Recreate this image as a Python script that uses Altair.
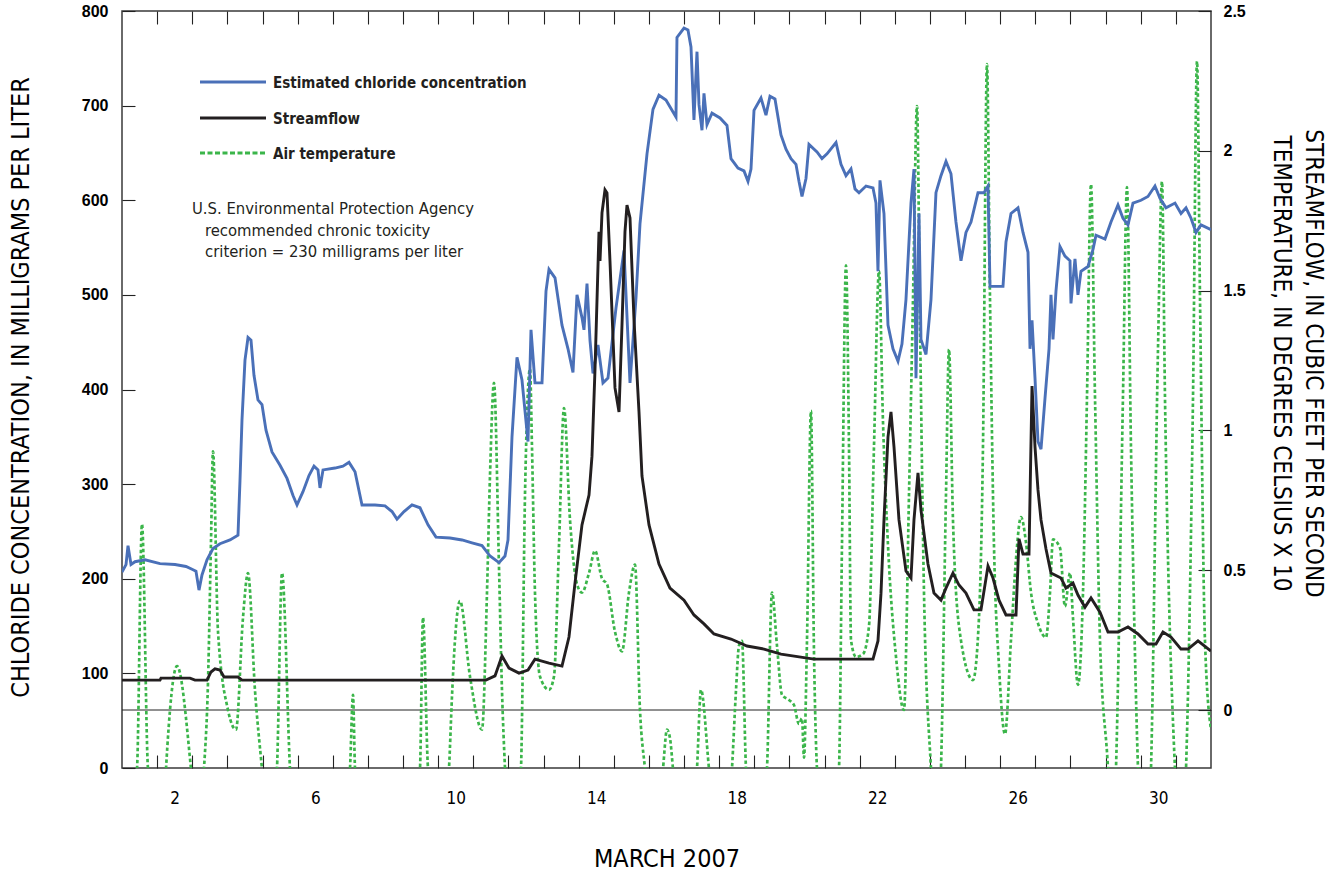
import altair as alt
import pandas as pd

# ---------------- data ----------------
# day of March 2007 as a continuous value: 1.0 = March 1, 00:00 ; 32.0 = April 1, 00:00
cl_day = [1.000, 1.114, 1.171, 1.256, 1.370, 1.655, 2.082, 2.509, 2.822, 2.993, 3.106, 3.192, 3.277,
          3.420, 3.590, 3.790, 4.074, 4.302, 4.359, 4.416, 4.501, 4.587, 4.672, 4.757, 4.871, 4.985,
          5.099, 5.270, 5.498, 5.697, 5.868, 5.982, 6.152, 6.323, 6.466, 6.579, 6.636, 6.722, 7.063,
          7.291, 7.462, 7.633, 7.832, 8.202, 8.487, 8.686, 8.828, 9.028, 9.255, 9.483, 9.711, 9.938,
          10.337, 10.679, 10.963, 11.248, 11.476, 11.732, 11.903, 11.988, 12.102, 12.244, 12.386,
          12.557, 12.643, 12.756, 12.956, 13.070, 13.155, 13.326, 13.525, 13.696, 13.838, 13.952,
          14.094, 14.151, 14.237, 14.322, 14.408, 14.550, 14.692, 14.834, 15.062, 15.290, 15.461,
          15.632, 15.745, 15.945, 16.115, 16.286, 16.485, 16.770, 16.798, 16.998, 17.111, 17.197,
          17.282, 17.368, 17.425, 17.510, 17.567, 17.653, 17.795, 18.023, 18.222, 18.336, 18.535,
          18.706, 18.820, 18.905, 18.991, 19.190, 19.332, 19.446, 19.588, 19.759, 19.901, 20.044,
          20.186, 20.271, 20.357, 20.471, 20.556, 20.784, 20.926, 21.069, 21.325, 21.467, 21.609,
          21.752, 21.866, 21.980, 22.179, 22.378, 22.463, 22.520, 22.577, 22.691, 22.805, 22.947,
          23.090, 23.203, 23.317, 23.460, 23.545, 23.602, 23.688, 23.744, 23.887, 24.029, 24.171,
          24.313, 24.456, 24.598, 24.740, 24.883, 25.025, 25.168, 25.367, 25.538, 25.652, 25.709,
          26.079, 26.164, 26.307, 26.506, 26.648, 26.791, 26.848, 26.905, 26.990, 27.075, 27.161,
          27.275, 27.389, 27.445, 27.502, 27.587, 27.701, 27.843, 27.986, 28.014, 28.128, 28.213,
          28.299, 28.498, 28.641, 28.726, 28.982, 29.153, 29.352, 29.494, 29.637, 29.779, 30.007,
          30.206, 30.405, 30.548, 30.719, 30.975, 31.146, 31.289, 31.431, 31.573, 31.716, 32.000]
cl_val = [207, 215, 235, 215, 218, 220, 216, 215, 213, 210, 208, 188, 204,
          220, 232, 237, 241, 246, 304, 368, 431, 455, 452, 415, 389, 384,
          357, 334, 320, 306, 288, 278, 292, 309, 319, 315, 296, 315, 317,
          319, 323, 313, 278, 278, 277, 271, 263, 271, 278, 275, 257, 244,
          243, 241, 238, 235, 224, 217, 224, 241, 350, 434, 410,
          345, 463, 407, 407, 504, 527, 518, 468, 443, 418, 500,
          476, 463, 512, 452, 417, 447, 407, 412, 486, 547, 407,
          497, 575, 649, 696, 711, 706, 688, 772, 782, 780, 762,
          685, 757, 701, 674, 713, 680, 692, 687, 679, 644, 634,
          631, 620, 633, 695, 708, 690, 710, 707, 669, 654, 644,
          638, 620, 604, 623, 659, 651, 644, 649, 661, 638, 626,
          633, 612, 608, 615, 613, 597, 525, 621, 586, 468, 443,
          430, 448, 495, 597, 633, 412, 586, 453, 437, 495, 608,
          626, 641, 628, 577, 536, 566, 577, 608, 608, 615, 509,
          509, 556, 586, 592, 566, 545, 443, 473, 412, 345, 337,
          391, 443, 500, 453, 504, 551, 541, 536, 491, 538, 500,
          525, 530, 548, 563, 559, 577, 595, 581, 574, 597, 600,
          604, 615, 602, 592, 597, 586, 592, 581, 566, 574, 569]

sf_day = [1.000, 2.082, 2.110, 2.936, 3.078, 3.420, 3.533, 3.647, 3.790, 3.904, 4.302, 4.416, 11.362,
          11.618, 11.817, 12.016, 12.301, 12.557, 12.756, 13.155, 13.525, 13.724, 13.895, 14.094,
          14.294, 14.379, 14.465, 14.578, 14.607, 14.664, 14.749, 14.806, 14.891, 15.034, 15.148,
          15.233, 15.318, 15.375, 15.461, 15.575, 15.717, 15.802, 16.002, 16.286, 16.599, 16.998,
          17.282, 17.567, 17.852, 18.336, 18.791, 19.275, 19.759, 20.698, 22.378, 22.520, 22.606,
          22.691, 22.805, 22.890, 22.976, 23.118, 23.317, 23.460, 23.545, 23.659, 23.744, 23.943,
          24.114, 24.313, 24.456, 24.655, 24.826, 25.025, 25.253, 25.452, 25.652, 25.794, 25.965,
          26.164, 26.449, 26.534, 26.648, 26.819, 26.905, 26.990, 27.075, 27.161, 27.303, 27.445,
          27.730, 27.872, 28.071, 28.213, 28.413, 28.584, 28.840, 29.068, 29.352, 29.637, 29.922,
          30.206, 30.434, 30.633, 30.861, 31.146, 31.346, 31.630, 32.000]
sf_val = [0.107, 0.107, 0.114, 0.114, 0.107, 0.107, 0.136, 0.147, 0.143, 0.118, 0.118, 0.107, 0.107,
          0.122, 0.193, 0.150, 0.132, 0.143, 0.182, 0.168, 0.157, 0.261, 0.454, 0.662,
          0.769, 0.908, 1.220, 1.710, 1.606, 1.778, 1.860, 1.849, 1.606, 1.152, 1.066,
          1.377, 1.710, 1.806, 1.760, 1.395, 1.066, 0.837, 0.662, 0.522, 0.436, 0.393,
          0.340, 0.308, 0.272, 0.254, 0.229, 0.218, 0.200, 0.182, 0.182, 0.247, 0.418,
          0.680, 0.976, 1.066, 0.941, 0.680, 0.497, 0.472, 0.680, 0.848, 0.715, 0.522,
          0.418, 0.393, 0.436, 0.490, 0.447, 0.418, 0.358, 0.358, 0.515, 0.472, 0.393,
          0.340, 0.340, 0.612, 0.558, 0.558, 1.159, 0.941, 0.787, 0.680, 0.576, 0.490,
          0.472, 0.436, 0.454, 0.411, 0.368, 0.401, 0.350, 0.279, 0.279, 0.297, 0.272,
          0.236, 0.236, 0.279, 0.261, 0.218, 0.218, 0.247, 0.211]

# air temperature, in the right-axis units (degrees Celsius / 10)
t_day = [1.000, 1.427, 1.569, 1.740, 2.139, 2.253, 2.566, 2.964, 3.135, 3.334, 3.448, 3.533, 3.590,
         3.733, 4.017, 4.245, 4.444, 4.587, 4.786, 4.985, 5.213, 5.412, 5.555, 5.782, 6.067, 6.579,
         7.063, 7.490, 7.576, 7.633, 8.060, 8.572, 9.056, 9.483, 9.568, 9.711, 10.052, 10.308,
         10.394, 10.479, 10.621, 10.906, 11.248, 11.390, 11.476, 11.589, 11.732, 11.817, 11.903,
         12.130, 12.358, 12.472, 12.614, 12.671, 12.756, 12.899, 13.155, 13.297, 13.440, 13.582,
         13.753, 13.952, 14.094, 14.294, 14.465, 14.664, 14.806, 15.034, 15.233, 15.432, 15.603,
         15.745, 15.888, 16.172, 16.400, 16.514, 16.599, 16.685, 17.026, 17.368, 17.482, 17.710,
         18.023, 18.364, 18.478, 18.563, 18.649, 18.763, 19.076, 19.361, 19.503, 19.645, 19.788,
         19.987, 20.129, 20.271, 20.357, 20.414, 20.499, 20.613, 20.698, 20.784, 21.097, 21.410,
         21.495, 21.609, 21.695, 21.752, 21.894, 22.093, 22.264, 22.406, 22.549, 22.663, 22.805,
         23.033, 23.260, 23.403, 23.517, 23.631, 23.716, 23.830, 24.029, 24.171, 24.313, 24.456,
         24.541, 24.655, 24.826, 25.225, 25.395, 25.509, 25.623, 25.709, 25.822, 25.965, 26.135,
         26.306, 26.449, 26.591, 26.733, 26.876, 27.075, 27.303, 27.417, 27.502, 27.701, 27.843,
         27.986, 28.071, 28.213, 28.356, 28.470, 28.584, 28.698, 28.840, 29.068, 29.181, 29.295,
         29.494, 29.608, 29.722, 29.922, 30.121, 30.292, 30.491, 30.605, 30.690, 30.975, 31.146,
         31.289, 31.488, 31.602, 31.687, 31.828, 32.000]
t_val = [-0.55, -0.21, 0.665, -0.21, -0.50, -0.21, 0.157, -0.21, -0.45, -0.21, 0.10, 0.60, 0.925,
         0.28, 0.0, -0.07, 0.33, 0.49, 0.07, -0.21, -0.50, -0.21, 0.49, -0.21, -0.70, -0.35,
         -0.70, -0.21, 0.054, -0.21, -0.70, -0.30, -0.70, -0.21, 0.33, -0.21, -0.50, -0.21,
         0.05, 0.25, 0.39, 0.12, -0.07, 0.42, 0.84, 1.17, 0.51, 0.07, -0.21,
         -0.60, -0.21, 0.77, 1.22, 0.94, 0.42, 0.12, 0.072, 0.12, 0.59, 1.08,
         0.68, 0.45, 0.42, 0.49, 0.57, 0.47, 0.45, 0.28, 0.21, 0.42, 0.52,
         0.0, -0.21, -0.50, -0.21, -0.07, -0.10, -0.21, -0.60, -0.21, 0.072, -0.21,
         -0.60, -0.21, 0.07, 0.23, 0.247, -0.21, -0.60, -0.21, 0.42, 0.23, 0.054,
         0.036, 0.018, -0.05, -0.03, -0.17, 0.247, 1.07, 0.21, -0.21, -0.60, -0.21,
         0.59, 1.59, 0.94, 0.25, 0.19, 0.20, 0.30, 0.94, 1.57, 1.03, 0.59,
         0.19, 0.0, 0.77, 1.47, 2.16, 1.38, 0.42, -0.21, -0.50, -0.21, 0.77,
         1.29, 0.68, 0.30, 0.107, 0.33, 0.94, 2.31, 1.47, 0.59, 0.157, -0.086,
         0.25, 0.54, 0.69, 0.60, 0.42, 0.31, 0.26, 0.42, 0.61, 0.58, 0.37,
         0.49, 0.33, 0.09, 0.42, 1.12, 1.88, 1.12, 0.25, -0.21, -0.50, -0.21,
         1.12, 1.87, 0.94, -0.21, -0.60, -0.21, 1.29, 1.89, 1.12, -0.21, -0.50,
         -0.21, 1.12, 2.32, 1.47, 0.25, -0.07]

day_ticks = list(range(2, 32))
left_ticks = [0, 100, 200, 300, 400, 500, 600, 700, 800]
right_ticks = [0, 0.5, 1, 1.5, 2, 2.5]
zero_line = [0]

legend_labels = ["Estimated chloride concentration", "Streamflow", "Air temperature"]
note_lines = ["U.S. Environmental Protection Agency",
              "recommended chronic toxicity",
              "criterion = 230 milligrams per liter"]

# ---------------- styling ----------------
W, H = 1089, 757
NARROW = "'DejaVu Sans Condensed', 'Liberation Sans Narrow', sans-serif"
SANS = "'Liberation Sans', Arial, sans-serif"
BLUE = "#4a70b8"
BLACK = "#231f20"
GREEN = "#3bb54a"
DASH = [3.5, 2.5]
LW = 2.9

xscale = alt.Scale(domain=[1, 32], nice=False, zero=False)
clscale = alt.Scale(domain=[0, 800], nice=False, zero=False)
rscale = alt.Scale(domain=[-0.2074, 2.5], nice=False, zero=False)

df_cl = pd.DataFrame({"day": cl_day, "value": cl_val})
df_sf = pd.DataFrame({"day": sf_day, "value": sf_val})
df_t = pd.DataFrame({"day": t_day, "value": t_val})
df_zero = pd.DataFrame({"value": zero_line})

bottom_axis = alt.Axis(
    orient="bottom", values=day_ticks,
    labelExpr="(datum.value - 2) % 4 == 0 ? datum.label : ''",
    labelOffset=17.6, offset=-13, tickSize=13, tickColor="#222", tickWidth=1.1,
    domain=False, grid=False, labelPadding=22, labelFont=NARROW, labelFontSize=17,
    labelColor="black", labelFlush=False, labelOverlap=False, labelBound=False,
    title="MARCH 2007", titleFont=NARROW, titleFontSize=25, titleFontWeight="normal",
    titleColor="black", titleX=W / 2, titleY=103, titleAlign="center", titleBaseline="middle")

top_axis = alt.Axis(
    orient="top", values=day_ticks, labels=False, offset=-13, tickSize=13,
    tickColor="#222", tickWidth=1.1, domain=False, grid=False, title="")

left_axis = alt.Axis(
    orient="left", values=left_ticks, format="d", offset=-13, tickSize=13,
    tickColor="#222", tickWidth=1.1, domain=False, grid=False, labelPadding=14,
    labelFont=SANS, labelFontSize=16, labelFontWeight="bold", labelColor="black",
    labelFlush=False, labelOverlap=False, labelBound=False,
    title="CHLORIDE CONCENTRATION, IN MILLIGRAMS PER LITER", titleFont=NARROW,
    titleFontSize=25, titleFontWeight="normal", titleColor="black", titleAngle=270,
    titleX=-115, titleY=376, titleAlign="center", titleBaseline="middle")

right_axis = alt.Axis(
    orient="right", values=right_ticks, format="~g", offset=-13, tickSize=13,
    tickColor="#222", tickWidth=1.1, domain=False, grid=False, labelPadding=12,
    labelFont=SANS, labelFontSize=16, labelFontWeight="bold", labelColor="black",
    labelFlush=False, labelOverlap=False, labelBound=False,
    title=["STREAMFLOW, IN CUBIC FEET PER SECOND", "TEMPERATURE, IN DEGREES CELSIUS X 10"],
    titleFont=NARROW, titleFontSize=24, titleFontWeight="normal", titleColor="black",
    titleAngle=90, titleX=114, titleY=352, titleAlign="center", titleBaseline="middle",
    titleLineHeight=32)

zero = alt.Chart(df_zero).mark_rule(color="#222", strokeWidth=1).encode(
    y=alt.Y("value:Q", scale=rscale, axis=None))

temp = alt.Chart(df_t).mark_line(color=GREEN, strokeWidth=2.7, strokeDash=DASH,
                                 interpolate="monotone", clip=True).encode(
    x=alt.X("day:Q", scale=xscale, axis=None),
    y=alt.Y("value:Q", scale=rscale, axis=None),
    order="day:Q")

chloride = alt.Chart(df_cl).mark_line(color=BLUE, strokeWidth=LW, clip=True).encode(
    x=alt.X("day:Q", scale=xscale, axis=bottom_axis),
    y=alt.Y("value:Q", scale=clscale, axis=left_axis),
    order="day:Q")

topticks = alt.Chart(df_cl).mark_line(opacity=0).encode(
    x=alt.X("day:Q", scale=xscale, axis=top_axis),
    y=alt.Y("value:Q", scale=clscale, axis=None))

stream = alt.Chart(df_sf).mark_line(color=BLACK, strokeWidth=LW, clip=True).encode(
    x=alt.X("day:Q", scale=xscale, axis=None),
    y=alt.Y("value:Q", scale=rscale, axis=right_axis),
    order="day:Q")

one = pd.DataFrame({"k": [0]})
leg_blue = alt.Chart(one).mark_rule(color=BLUE, strokeWidth=3.2).encode(
    x=alt.value(78), x2=alt.value(144), y=alt.value(71))
leg_black = alt.Chart(one).mark_rule(color=BLACK, strokeWidth=3.2).encode(
    x=alt.value(78), x2=alt.value(144), y=alt.value(107))
leg_green = alt.Chart(one).mark_rule(color=GREEN, strokeWidth=3, strokeDash=[5, 2.5]).encode(
    x=alt.value(78), x2=alt.value(144), y=alt.value(142))

def txt(s, x, y, size, weight, font):
    return alt.Chart(pd.DataFrame({"t": [s]})).mark_text(
        align="left", baseline="middle", font=font, fontSize=size, fontWeight=weight,
        color=BLACK).encode(x=alt.value(x), y=alt.value(y), text="t:N")

leg_t1 = txt(legend_labels[0], 151, 72, 15, "bold", NARROW)
leg_t2 = txt(legend_labels[1], 151, 108, 15, "bold", NARROW)
leg_t3 = txt(legend_labels[2], 151, 143, 15, "bold", NARROW)
note1 = txt(note_lines[0], 70, 198, 16.5, "normal", NARROW)
note2 = txt(note_lines[1], 83, 220, 16.5, "normal", NARROW)
note3 = txt(note_lines[2], 83, 241, 16.5, "normal", NARROW)

chart = alt.layer(
    zero, temp, chloride, topticks, stream,
    leg_blue, leg_black, leg_green, leg_t1, leg_t2, leg_t3, note1, note2, note3
).resolve_scale(y="independent").resolve_axis(x="independent", y="independent").properties(
    width=W, height=H,
    autosize=alt.AutoSizeParams(type="none"),
    padding={"left": 122, "top": 11, "right": 120, "bottom": 105},
    background="white"
).configure_view(stroke="#3a3a3a", strokeWidth=1.5)

chart.save("out.html", embed_options={"renderer": "svg", "actions": False})
